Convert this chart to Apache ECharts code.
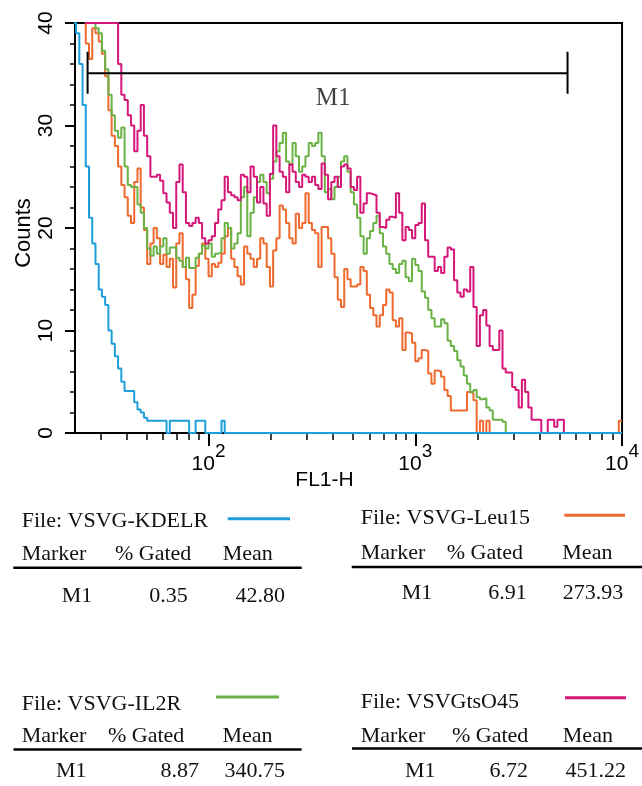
<!DOCTYPE html>
<html><head><meta charset="utf-8">
<script src="https://cdn.jsdelivr.net/npm/echarts@6.0.0/dist/echarts.min.js"></script>
<style>html,body{margin:0;padding:0;background:#fff}#chart{width:642px;height:786px}</style>
</head><body><div id="chart"></div>
<script>
// ---- data (FL1-H histogram, 256 log channels over 4 decades; channels 86..255 shown) ----
const firstChannel = 86;
const channelsPerDecade = 64;

const kdelrCounts = [
 40,39,36,32,26,21,18.5,16.5,14,13.3,
 12.5,10,8.7,7.5,6.3,5,4.1,4.1,4.1,3,
 2.3,2,1.5,1.2,1.2,1.2,1.2,1.2,1.2,0,
 1.2,1.2,1.2,1.2,1.2,1.2,0,0,1.2,1.2,
 1.2,0,0,0,0,0,1.2,0,0,0,
 0,0,0,0,0,0,0,0,0,0,
 0,0,0,0,0,0,0,0,0,0,
 0,0,0,0,0,0,0,0,0,0,
 0,0,0,0,0,0,0,0,0,0,
 0,0,0,0,0,0,0,0,0,0,
 0,0,0,0,0,0,0,0,0,0,
 0,0,0,0,0,0,0,0,0,0,
 0,0,0,0,0,0,0,0,0,0,
 0,0,0,0,0,0,0,0,0,0,
 0,0,0,0,0,0,0,0,0,0,
 0,0,0,0,0,0,0,0,0,0,
 0,0,0,0,0,0,0,0,0,0
];
const leu15Counts = [
 50,50,50,50,38,36.5,39.5,39,38.2,37,
 34.8,31.5,29,28,26,24.2,23,21.2,20.5,24.5,
 25.8,22,19.8,16.5,18.5,20,19,16.5,17.4,16.2,
 17,14.2,18.5,19.5,16.2,15,12.2,13.5,16.3,17.5,
 18.5,17,15.3,16.5,16.2,16.6,17.5,19.2,20,17,
 16.2,15.3,14.5,18.2,17.5,17,16.2,17,19,18.5,
 16.2,14.3,17.8,19,22.2,21.8,20.5,19,18.5,21.4,
 20,20.5,23.4,20.5,19.8,19.5,16.2,20.1,20.1,19,
 17.5,15.2,13,12.3,16,15,14.3,14.3,14.5,16.2,
 15.8,13.5,12.2,11.5,10.4,11.5,12.5,14,13.7,11,
 10.4,11.2,8.1,9.8,9.7,8.8,7,7.3,8.1,8,
 5.8,4.8,6.1,6,5.5,4.2,3.6,2.2,2.2,2.2,
 2.2,2.2,4,3.9,3.2,0,1.2,0,1.2,0,
 0,0,0,0,0,0,0,0,0,0,
 0,0,0,0,0,0,0,0,0,0,
 0,0,0,0,0,0,0,0,0,0,
 0,0,0,0,0,0,0,0,0,1.2
];
const il2rCounts = [
 50,50,50,50,50,50,50,39.5,39,37.3,
 35.5,33,31,29.5,28.8,29.8,26,24.2,24,24,
 22.3,21.5,20,18,17.3,18.2,17.5,18.2,19,17.5,
 18.1,18.1,17.1,16.8,16.2,17.1,16.1,16.1,17.1,17.5,
 18.3,18,18.5,17.2,17.5,17.6,19,20.5,20,18,
 18.5,19.5,23,24,19.2,21.5,23,24.5,25.2,24.5,
 23.4,24.8,26.5,27.5,28.3,29.3,26.5,26.2,28.3,27,
 25.5,26,27,28.3,28,28.3,29.3,27,23.5,23.8,
 22.8,24,25,26.5,27,25.5,23.5,22.3,21,19.2,
 17.5,19,19.7,20.5,21.2,19.5,18.2,17.5,16.5,16,
 15.6,16.5,16.8,15.2,14.8,17,16.4,15.8,13.8,13.2,
 12,11.2,10.4,10.4,11.1,10.7,9,8.5,8,7.1,
 6.5,5.6,4.8,4,4.2,3.5,3.3,3.4,2.5,2.2,
 1.3,1.3,1.3,1.1,0,0,0,0,0,0,
 0,0,0,0,0,0,0,0,0,0,
 0,0,0,0,0,0,0,0,0,0,
 0,0,0,0,0,0,0,0,0,0
];
const tsO45Counts = [
 50,50,50,50,40,40,40,40,40,40,
 40,40,40,40,36,33,32.5,31,30,27.5,
 29.5,32,29,27,25,25,25.2,24.6,23.4,22.5,
 21.5,20,24.5,26.2,23.5,20.5,20.2,20.5,21,20.5,
 19,18.5,18.8,19.2,20.5,21.8,22.7,25,23.5,23.2,
 23,22.7,25.2,25,23.5,26,25,22.5,24,22.4,
 21.2,25.3,30,27,25.5,25,23.5,26.2,25.5,24.5,
 24,25.2,25,24.5,25,24.2,23.8,26.3,25.2,22.8,
 24.5,25,24,26,26.2,25.8,24,23.7,25,21.5,
 22.4,23.4,23.3,23.2,21.5,20.1,20,20.8,21.1,21,
 23.4,21.5,18.8,20.1,19.8,19,20.3,20.5,22.4,18.8,
 17.2,17.2,15.8,16.2,15.6,17.2,18.1,17.9,14.9,13.7,
 13.3,14,13.8,16.2,12.3,8.5,11.5,12,10.5,8.5,
 8.1,8.1,10,6.3,5.9,5.9,4.5,4.2,2.5,5.2,
 4,2.5,1.3,1.3,1.3,0,0,1.3,1.3,0.6,
 1.3,1.3,0,0,0,0,0,0,0,0,
 0,0,0,0,0,0,0,0,0,0
];

const fileNames = ['VSVG-KDELR', 'VSVG-Leu15', 'VSVG-IL2R', 'VSVGtsO45'];
const markerNames = ['M1', 'M1', 'M1', 'M1'];
const gatedPercent = ['0.35', '6.91', '8.87', '6.72'];
const meanValues = ['42.80', '273.93', '340.75', '451.22'];
const tableHeaders = ['Marker', '% Gated', 'Mean'];

const m1Range = [26, 5450];
const m1Level = 35.1;
const m1TickSpan = [33.1, 37.2];
const m1LabelAt = [400, 32.6];

const xTickValues = [100, 1000, 10000];
const xMin = 22.6, xMax = 10000;
const yTicks = [0, 10, 20, 30, 40];

// ---- styles / layout ----
const COLORS = {'VSVG-KDELR':'#1e9fda','VSVG-Leu15':'#ee6a2e','VSVG-IL2R':'#6ab245','VSVGtsO45':'#d6177a'};
const SERIF = '"Liberation Serif","Times New Roman",serif';
const SANS = '"Liberation Sans",Arial,sans-serif';

function toPoints(counts) {
  const pts = counts.map((c, i) => [Math.pow(10, (firstChannel + i) / channelsPerDecade), c]);
  pts.push([Math.pow(10, (firstChannel + counts.length) / channelsPerDecade), counts[counts.length - 1]]);
  return pts;
}

const histOrder = [
  ['VSVG-Leu15', leu15Counts],
  ['VSVG-IL2R', il2rCounts],
  ['VSVGtsO45', tsO45Counts],
  ['VSVG-KDELR', kdelrCounts]
];
const series = histOrder.map(([name, counts], k) => ({
  type: 'line', name, step: 'end', data: toPoints(counts), symbol: 'none',
  lineStyle: {color: COLORS[name], width: 2}, itemStyle: {color: COLORS[name]},
  silent: true, z: 2 + k, animation: false
}));
series.push({
  type: 'line', name: 'M1 gate', symbol: 'none', silent: true, z: 10,
  data: [[m1Range[0], m1TickSpan[0]], [m1Range[0], m1TickSpan[1]], [m1Range[0], m1Level],
         [m1Range[1], m1Level], [m1Range[1], m1TickSpan[1]], [m1Range[1], m1TickSpan[0]]],
  lineStyle: {color: '#000', width: 2}
});
series.push({
  type: 'scatter', name: 'M1 label', symbolSize: 1, itemStyle: {color: 'rgba(0,0,0,0)'}, silent: true,
  data: [m1LabelAt],
  label: {show: true, position: 'inside', formatter: markerNames[0], fontFamily: SERIF, fontSize: 25, color: '#111'}
});

// ---- tables below the chart ----
const blocks = [
  {file: [21.7, 528.3], line: [227.7, 290, 518.7], head: [21.7, 115, 222.7], headY: 560.7, rule: [13.3, 301.7, 567.7], row: [61.7, 187.7, 285], rowY: 603.3},
  {file: [360.7, 525], line: [564.3, 625, 515.3], head: [360.7, 446.7, 562.3], headY: 560, rule: [351.7, 642, 567], row: [401.7, 526.7, 623.3], rowY: 600},
  {file: [21.7, 710.7], line: [216, 279, 697], head: [21.7, 108, 222.5], headY: 742.7, rule: [13.5, 301.6, 749.5], row: [56, 199, 285], rowY: 777.7},
  {file: [360.7, 709.3], line: [565, 626, 697.7], head: [360.7, 452, 562.8], headY: 742.7, rule: [352, 642, 748.5], row: [405, 528, 626], rowY: 777.7}
];
const FS = 22;
const mid = b => b - 0.305 * FS;
const graphics = [];
blocks.forEach((b, i) => {
  const name = fileNames[i];
  const txt = (x, y, s, align) => graphics.push({type: 'text', x, y: mid(y), silent: true,
    style: {text: s, font: FS + 'px ' + SERIF, fill: '#111', align: align || 'left', verticalAlign: 'middle'}});
  txt(b.file[0], b.file[1], 'File: ' + name);
  graphics.push({type: 'line', silent: true, shape: {x1: b.line[0], y1: b.line[2], x2: b.line[1], y2: b.line[2]},
    style: {stroke: COLORS[name], lineWidth: 3}});
  tableHeaders.forEach((h, j) => txt(b.head[j], b.headY, h));
  graphics.push({type: 'line', silent: true, shape: {x1: b.rule[0], y1: b.rule[2], x2: b.rule[1], y2: b.rule[2]},
    style: {stroke: '#000', lineWidth: 2.5}});
  txt(b.row[0], b.rowY, markerNames[i]);
  txt(b.row[1], b.rowY, gatedPercent[i], 'right');
  txt(b.row[2], b.rowY, meanValues[i], 'right');
});

const chart = echarts.init(document.getElementById('chart'), null, {renderer: 'canvas'});
chart.setOption({
  animation: false,
  backgroundColor: '#fff',
  grid: {left: 75, top: 23, width: 550, height: 410, show: true, borderColor: '#000', borderWidth: 2, backgroundColor: 'transparent'},
  xAxis: {
    type: 'log', logBase: 10, min: xMin, max: xMax,
    name: 'FL1-H', nameLocation: 'middle', nameGap: 37, nameMoveOverlap: false,
    nameTextStyle: {fontFamily: SANS, fontSize: 21, color: '#000', padding: [0, 48, 0, 0]},
    axisLine: {show: true, lineStyle: {color: '#000', width: 2}},
    axisTick: {show: true, length: 13, customValues: xTickValues, lineStyle: {color: '#000', width: 2}},
    minorTick: {show: true, splitNumber: 9, length: 7, lineStyle: {color: '#000', width: 1.5}},
    splitLine: {show: false}, minorSplitLine: {show: false},
    axisLabel: {
      customValues: xTickValues, margin: 21,
      formatter: v => '{b|10}{s|' + Math.round(Math.log10(v)) + '}',
      rich: {
        b: {fontFamily: SANS, fontSize: 21, lineHeight: 21, color: '#000', verticalAlign: 'bottom'},
        s: {fontFamily: SANS, fontSize: 19, lineHeight: 19, color: '#000', verticalAlign: 'bottom', padding: [0, 0, 14, 0]}
      }
    }
  },
  yAxis: {
    type: 'value', min: yTicks[0], max: yTicks[yTicks.length - 1], interval: 10,
    name: 'Counts', nameLocation: 'middle', nameGap: 40, nameMoveOverlap: false,
    nameTextStyle: {fontFamily: SANS, fontSize: 22, color: '#000', padding: [0, 10, 0, 0]},
    axisLine: {show: true, lineStyle: {color: '#000', width: 2}},
    axisTick: {show: true, length: 10, lineStyle: {color: '#000', width: 2}},
    minorTick: {show: true, splitNumber: 5, length: 5, lineStyle: {color: '#000', width: 1.5}},
    splitLine: {show: false}, minorSplitLine: {show: false},
    axisLabel: {rotate: 90, margin: 18, fontFamily: SANS, fontSize: 21, color: '#000'}
  },
  series,
  graphic: graphics
});
</script>
</body></html>
